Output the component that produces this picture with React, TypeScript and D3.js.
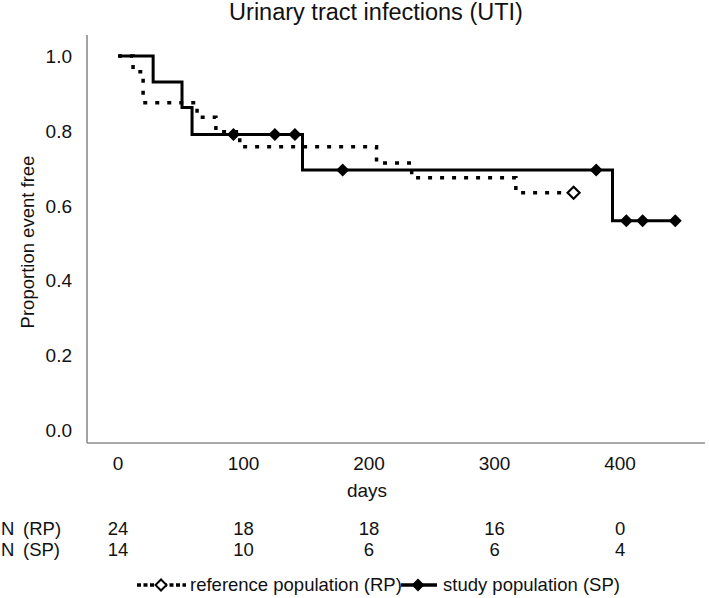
import React from "react";
import * as d3 from "d3";

const title = "Urinary tract infections (UTI)";
const yLabel = "Proportion event free";
const xLabel = "days";

const xTicks = [0, 100, 200, 300, 400];
const yTicks = [0, 0.2, 0.4, 0.6, 0.8, 1.0];

// Reference population (RP) Kaplan-Meier steps
const rpStepDays = [0, 12, 20, 63, 78, 97, 206, 234, 317];
const rpStepValues = [1.0, 0.958, 0.875, 0.836, 0.797, 0.757, 0.714, 0.674, 0.634];
const rpEndDay = 363;
const rpCensorDays = [363];

// Study population (SP) Kaplan-Meier steps
const spStepDays = [0, 28, 51, 59, 147, 394];
const spStepValues = [1.0, 0.93, 0.862, 0.79, 0.695, 0.559];
const spEndDay = 444;
const spCensorDays = [92, 125, 141, 179, 381, 405, 418, 444];

// Numbers at risk
const riskRows = ["RP", "SP"];
const riskRP = [24, 18, 18, 16, 0];
const riskSP = [14, 10, 6, 6, 4];

const legendLabels = ["reference population (RP)", "study population (SP)"];

const FONT = "'Liberation Sans', Arial, sans-serif";

function valueAt(days: number[], vals: number[], t: number) {
  let v = vals[0];
  for (let i = 0; i < days.length; i++) if (days[i] <= t) v = vals[i];
  return v;
}

function diamond(cx: number, cy: number, r: number) {
  return `M${cx},${cy - r}L${cx + r},${cy}L${cx},${cy + r}L${cx - r},${cy}Z`;
}

export default function App() {
  const W = 709;
  const H = 598;
  const x = d3.scaleLinear().domain([-24.7, 467.7]).range([87, 705]);
  const y = d3.scaleLinear().domain([-0.035, 1.056]).range([443, 35]);

  const line = d3
    .line<[number, number]>()
    .x((d) => x(d[0]))
    .y((d) => y(d[1]))
    .curve(d3.curveStepAfter);

  const rpPts: [number, number][] = rpStepDays.map((d, i) => [d, rpStepValues[i]]);
  rpPts.push([rpEndDay, rpStepValues[rpStepValues.length - 1]]);
  const spPts: [number, number][] = spStepDays.map((d, i) => [d, spStepValues[i]]);
  spPts.push([spEndDay, spStepValues[spStepValues.length - 1]]);

  const axisColor = "#8c8c8c";
  const riskData = [riskRP, riskSP];
  const txt = "#111";

  return (
    <svg
      width={W}
      height={H}
      style={{ position: "absolute", left: 0, top: 0, background: "#fff" }}
      fontFamily={FONT}
    >
      <rect x={0} y={0} width={W} height={H} fill="#fff" />
      <text x={376} y={20} textAnchor="middle" fontSize={23.5} fill={txt}>
        {title}
      </text>

      {/* axes */}
      <line x1={x.range()[0]} x2={x.range()[0]} y1={y.range()[1]} y2={y.range()[0]} stroke={axisColor} strokeWidth={1.6} />
      <line x1={x.range()[0]} x2={x.range()[1]} y1={y.range()[0]} y2={y.range()[0]} stroke={axisColor} strokeWidth={1.6} />

      {yTicks.map((t) => (
        <text key={t} x={72} y={y(t) + 7} textAnchor="end" fontSize={19} fill={txt}>
          {d3.format(".1f")(t)}
        </text>
      ))}
      {xTicks.map((t) => (
        <text key={t} x={x(t)} y={470} textAnchor="middle" fontSize={19} fill={txt}>
          {t}
        </text>
      ))}
      <text x={367} y={497} textAnchor="middle" fontSize={19} fill={txt}>
        {xLabel}
      </text>
      <text
        transform={`translate(34,242) rotate(-90)`}
        textAnchor="middle"
        fontSize={18.5}
        fill={txt}
      >
        {yLabel}
      </text>

      {/* RP dotted */}
      <path d={line(rpPts) || ""} fill="none" stroke="#000" strokeWidth={3.5} strokeDasharray="4 8" />
      {rpCensorDays.map((d) => (
        <path
          key={d}
          d={diamond(x(d), y(valueAt(rpStepDays, rpStepValues, d)), 6)}
          fill="#fff"
          stroke="#000"
          strokeWidth={2.2}
        />
      ))}

      {/* SP solid */}
      <path d={line(spPts) || ""} fill="none" stroke="#000" strokeWidth={3} />
      {spCensorDays.map((d) => (
        <path key={d} d={diamond(x(d), y(valueAt(spStepDays, spStepValues, d)), 6.5)} fill="#000" />
      ))}

      {/* numbers at risk */}
      {riskRows.map((r, i) => (
        <g key={r}>
          <text x={1} y={535 + i * 21} fontSize={18.5} fill={txt}>
            N
          </text>
          <text x={23} y={535 + i * 21} fontSize={18.5} fill={txt}>
            ({r})
          </text>
          {riskData[i].map((v, j) => (
            <text key={j} x={x(xTicks[j])} y={535 + i * 21} textAnchor="middle" fontSize={18.5} fill={txt}>
              {v}
            </text>
          ))}
        </g>
      ))}

      {/* legend */}
      <g>
        <line x1={137} x2={186} y1={585} y2={585} stroke="#000" strokeWidth={3.5} strokeDasharray="4 2.5" />
        <path d={diamond(161, 585, 5.5)} fill="#fff" stroke="#000" strokeWidth={2} />
        <text x={190} y={591} fontSize={18.5} fill={txt}>
          {legendLabels[0]}
        </text>
        <line x1={401} x2={437} y1={585} y2={585} stroke="#000" strokeWidth={3.5} />
        <path d={diamond(418, 585, 6.5)} fill="#000" />
        <text x={443} y={591} fontSize={18.5} fill={txt}>
          {legendLabels[1]}
        </text>
      </g>
    </svg>
  );
}
